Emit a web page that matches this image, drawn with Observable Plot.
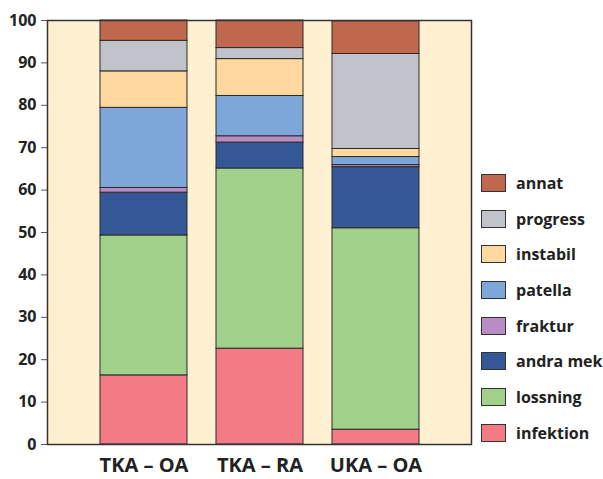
<!DOCTYPE html>
<html>
<head>
<meta charset="utf-8">
<script src="https://cdn.jsdelivr.net/npm/d3@7"></script>
<script src="https://cdn.jsdelivr.net/npm/@observablehq/plot@0.6"></script>
<style>
  html, body { margin: 0; padding: 0; background: #fff; }
  #wrap { position: relative; width: 603px; height: 479px; font-family: "Open Sans", sans-serif; }
  #legend { position: absolute; left: 481px; top: 165px; }
  .row { display: flex; align-items: center; height: 35.7px; margin: 0; }
  .sw { width: 23px; height: 16px; border: 1px solid #333; box-sizing: content-box; margin-right: 10px; }
  .lab { font-size: 16px; font-weight: 700; color: #222; line-height: 18px; }
</style>
</head>
<body>
<div id="wrap"><div id="chart"></div><div id="legend"></div></div>
<script>
const categories = ["TKA – OA", "TKA – RA", "UKA – OA"];
const causes = ["infektion", "lossning", "andra mek", "fraktur", "patella", "instabil", "progress", "annat"];
const colors = ["#F27B85", "#A1D08B", "#345896", "#B98CC4", "#7CA7D8", "#FED89E", "#C0C3C9", "#C0684E"];
const tkaOA = [16.3, 33.0, 10.1, 1.1, 18.9, 8.6, 7.2, 4.8];
const tkaRA = [22.6, 42.5, 6.1, 1.5, 9.5, 8.7, 2.6, 6.5];
const ukaOA = [3.5, 47.5, 14.4, 0.5, 1.9, 1.9, 22.4, 7.7];
const yTicks = [0, 10, 20, 30, 40, 50, 60, 70, 80, 90, 100];

const series = [tkaOA, tkaRA, ukaOA];
const data = [];
categories.forEach((c, i) => causes.forEach((k, j) => data.push({category: c, cause: k, value: series[i][j]})));

const chart = Plot.plot({
  width: 603,
  height: 479,
  marginTop: 20,
  marginBottom: 35,
  marginLeft: 47,
  marginRight: 132,
  style: {fontFamily: "Open Sans, sans-serif", background: "transparent"},
  x: {domain: categories, paddingInner: 0.253, paddingOuter: 0.446, label: null},
  y: {domain: [0, 100], ticks: yTicks, label: null},
  color: {domain: causes, range: colors},
  marks: [
    Plot.frame({fill: "#FFF0D2"}),
    Plot.barY(data, {x: "category", y: "value", z: "cause", fill: "cause", stroke: "#2b2b2b", strokeWidth: 1, inset: 0}),
    Plot.frame({stroke: "#333", strokeWidth: 1.5}),
    Plot.axisY({ticks: yTicks, tickSize: 6, tickPadding: 5, stroke: "#555", fontSize: 16, fontWeight: 700, fill: "#222", label: null}),
    Plot.axisX({tickSize: 0, tickPadding: 13, fontSize: 20, fontWeight: 700, fill: "#222", label: null})
  ]
});
document.getElementById("chart").appendChild(chart);

const legend = document.getElementById("legend");
causes.slice().reverse().forEach((k) => {
  const i = causes.indexOf(k);
  const row = document.createElement("div");
  row.className = "row";
  const sw = document.createElement("div");
  sw.className = "sw";
  sw.style.background = colors[i];
  const lab = document.createElement("span");
  lab.className = "lab";
  lab.textContent = k;
  row.appendChild(sw);
  row.appendChild(lab);
  legend.appendChild(row);
});
</script>
</body>
</html>
